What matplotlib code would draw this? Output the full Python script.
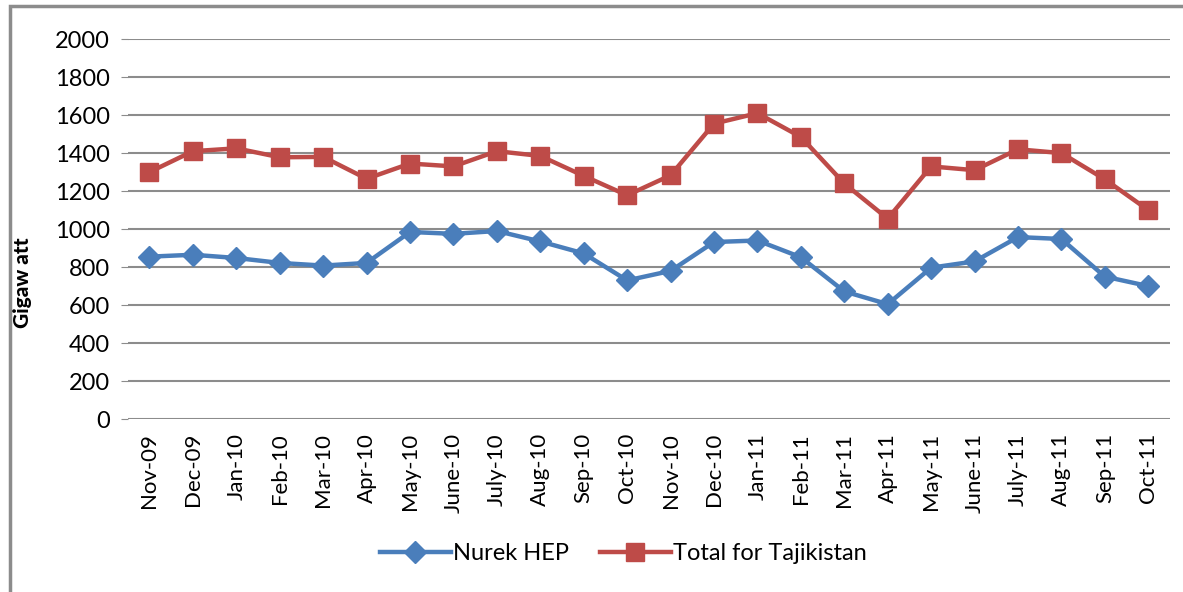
import numpy as np
import matplotlib.pyplot as plt
from matplotlib.patches import Rectangle

months = ['Nov-09', 'Dec-09', 'Jan-10', 'Feb-10', 'Mar-10', 'Apr-10', 'May-10', 'June-10',
          'July-10', 'Aug-10', 'Sep-10', 'Oct-10', 'Nov-10', 'Dec-10', 'Jan-11', 'Feb-11',
          'Mar-11', 'Apr-11', 'May-11', 'June-11', 'July-11', 'Aug-11', 'Sep-11', 'Oct-11']

nurek = [855, 865, 848, 822, 808, 822, 985, 975, 990, 935, 872, 730,
         780, 932, 940, 852, 672, 605, 797, 830, 958, 948, 750, 700]

total = [1300, 1410, 1425, 1378, 1380, 1265, 1345, 1330, 1410, 1385, 1280, 1178,
         1283, 1555, 1610, 1485, 1240, 1055, 1330, 1310, 1420, 1400, 1262, 1100]

plt.rcParams['font.family'] = ['Lato', 'DejaVu Sans']

fig = plt.figure(figsize=(11.83, 5.92), dpi=100)
ax = fig.add_axes([0.108, 0.292, 0.881, 0.642])

# chart border (cropped screenshot)
fig.patches.append(Rectangle((10 / 1183, -0.1), 1.2, 1 - 6 / 592 + 0.1, transform=fig.transFigure,
                             fill=False, edgecolor='#8c8c8c', linewidth=2.5))

x = np.arange(len(months))
ax.plot(x, nurek, color='#4A7EBB', lw=3.2, marker='D', markersize=11, label='Nurek HEP')
ax.plot(x, total, color='#BE4B48', lw=3.2, marker='s', markersize=13, label='Total for Tajikistan')

ax.set_xlim(-0.5, len(months) - 0.5)
ax.set_ylim(0, 2000)
ax.set_yticks(np.arange(0, 2001, 200))
ax.yaxis.grid(True, color='#8c8c8c', lw=1.5)
ax.set_axisbelow(True)
for s in ax.spines.values():
    s.set_visible(False)
ax.tick_params(axis='y', length=5, color='#8c8c8c', labelsize=17, pad=8)
ax.tick_params(axis='x', length=0, labelsize=16, pad=10)
ax.set_xticks(x)
ax.set_xticklabels(months, rotation=90)
ax.set_ylabel('Gigaw att', fontsize=15, fontweight='black')
ax.yaxis.set_label_coords(-0.092, 0.36)

fig.legend(loc='center', bbox_to_anchor=(0.527, 0.065), ncol=2, frameon=False,
           fontsize=17, handlelength=3.0, columnspacing=1.3, handletextpad=0.1)

fig.savefig('out.png', dpi=100)
